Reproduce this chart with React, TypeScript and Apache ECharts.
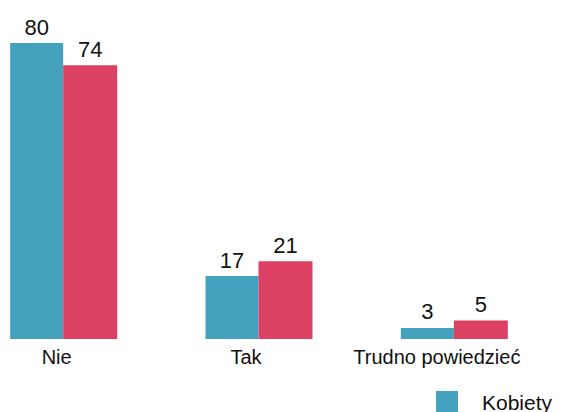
import React, { useEffect, useRef } from "react";
import * as echarts from "echarts";

const categories = ["Nie", "Tak", "Trudno powiedzieć"];
const seriesNames = ["Kobiety", "Mężczyźni"];
const kobiety = [80, 17, 3];
const mezczyzni = [74, 21, 5];
const labelShift = [14, 26, 35];

const BLUE = "#45A2BE";
const RED = "#DC4062";
const FONT = "'Liberation Sans', 'DejaVu Sans', sans-serif";

export default function App() {
  const ref = useRef<HTMLDivElement>(null);
  useEffect(() => {
    document.body.style.margin = "0";
    if (!ref.current) return;
    const chart = echarts.init(ref.current, null, { renderer: "svg" });
    const labelCfg = {
      show: true,
      position: "top",
      distance: 5,
      color: "#111",
      fontSize: 22,
      fontFamily: FONT,
    };
    chart.setOption({
      animation: false,
      grid: { left: 0, right: 10, top: 43, bottom: 73 },
      legend: {
        orient: "vertical",
        left: 470,
        top: 391,
        padding: 0,
        itemWidth: 22,
        itemHeight: 22,
        itemGap: 12,
        icon: "rect",
        textStyle: { fontSize: 21, fontFamily: FONT, color: "#111", padding: [0, 0, 0, 19] },
        data: seriesNames,
      },
      xAxis: {
        type: "category",
        data: categories.map((c, i) => ({
          value: c,
          textStyle: { padding: [0, labelShift[i], 0, 0] },
        })),
        axisLine: { show: false },
        axisTick: { show: false },
        axisLabel: { interval: 0, fontSize: 20, fontFamily: FONT, color: "#111", margin: 8 },
      },
      yAxis: { type: "value", min: 0, max: 80, show: false },
      series: [
        {
          name: seriesNames[0],
          type: "bar",
          data: kobiety,
          barWidth: 53,
          barGap: "0%",
          itemStyle: { color: BLUE },
          label: labelCfg,
        },
        {
          name: seriesNames[1],
          type: "bar",
          data: mezczyzni,
          barWidth: 54,
          itemStyle: { color: RED },
          label: labelCfg,
        },
      ],
    });
    return () => chart.dispose();
  }, []);
  return (
    <div
      ref={ref}
      style={{ position: "absolute", left: -34, top: 0, width: 596, height: 412 }}
    />
  );
}
